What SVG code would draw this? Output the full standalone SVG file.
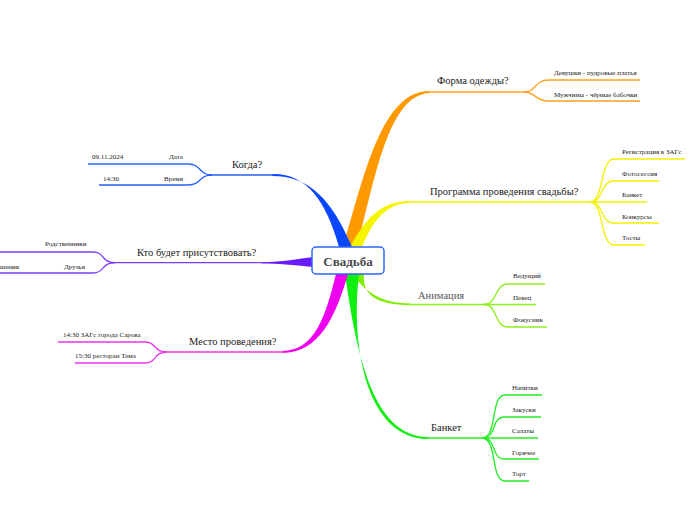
<svg xmlns="http://www.w3.org/2000/svg" width="696" height="520" viewBox="0 0 696 520">
<style>
text{font-family:"Liberation Serif","Times New Roman",serif;fill:#222}
.t{font-size:10.5px}
.s{font-size:7px}
.ln{fill:none;stroke-width:1.3}
.or{stroke:#ffa31a}.orf{fill:#ff9900}
.ye{stroke:#f2f200}.yef{fill:#f5f500}
.li{stroke:#8ef01e}.lif{fill:#80ee00}
.gr{stroke:#22ee22}.grf{fill:#11ee11}
.bl{stroke:#2a62ff}.blf{fill:#0a46ff}
.pu{stroke:#7a3cff}.puf{fill:#6a1aff}
.ma{stroke:#ee33ee}.maf{fill:#ee00ee}
</style>
<rect width="696" height="520" fill="#fff"/>
<g id="connectors">
<path class="orf" d="M343,247 C364,176 382,90 430,91 L430,93 C388,94 375,180 357,247 Z"/>
<path class="ln or" d="M428,92 H528" stroke-width="1.8"/>
<path class="ln or" d="M524,92 C536,92 535,80 548,80 H640"/>
<path class="ln or" d="M524,92 C536,92 535,101 548,101 H640"/>
<path class="yef" d="M350,247 C364,222 378,201 410,201 L410,203 C382,203 370,228 362,247 Z"/>
<path class="ln ye" d="M408,202 H594" stroke-width="1.8"/>
<path class="ln ye" d="M590,202 C604,202 600,159 614,159 H685"/>
<path class="ln ye" d="M590,202 C604,202 600,181 614,181 H659"/>
<path class="ln ye" d="M590,202 H647"/>
<path class="ln ye" d="M590,202 C604,202 600,223 614,223 H659"/>
<path class="ln ye" d="M590,202 C604,202 600,245 614,245 H645"/>
<path class="lif" d="M352,274 C366,292 380,303 410,303.5 L410,305 C378,305 362,296 364,274 Z"/>
<path class="ln li" d="M408,304.5 H488" stroke-width="1.6"/>
<path class="ln li" d="M484,304.5 C498,304.5 494,284 508,284 H545"/>
<path class="ln li" d="M484,304.5 H536"/>
<path class="ln li" d="M484,304.5 C498,304.5 494,327 508,327 H547"/>
<path class="grf" d="M345,274 C356,350 372,437 428,437 L428,439 C368,439 350,350 359,274 Z"/>
<path class="ln gr" d="M426,438 H487" stroke-width="1.8"/>
<path class="ln gr" d="M482,438 C498,438 490,395 505,395 H542"/>
<path class="ln gr" d="M482,438 C498,438 490,417 505,417 H541"/>
<path class="ln gr" d="M482,438 H538"/>
<path class="ln gr" d="M482,438 C498,438 490,459 505,459 H539"/>
<path class="ln gr" d="M482,438 C498,438 490,481 505,481 H529"/>
<path class="blf" d="M272,174 C306,173 326,200 339,247 L352,247 C332,200 310,176 272,176 Z"/>
<path class="ln bl" d="M274,175 H208" stroke-width="1.8"/>
<path class="ln bl" d="M212,175 C198,175 202,164 188,164 H88"/>
<path class="ln bl" d="M212,175 C198,175 202,185 188,185 H99"/>
<path class="puf" d="M313,257 C292,260 278,262 262,262 L262,263.5 C278,263.5 292,265 313,267 Z"/>
<path class="ln pu" d="M265,262.7 H111" stroke-width="1.8"/>
<path class="ln pu" d="M115,262.7 C101,262.7 105,252 93,252 H0"/>
<path class="ln pu" d="M115,262.7 C101,262.7 105,273 93,273 H0"/>
<path class="maf" d="M336,274 C326,315 315,351 282,351 L282,353 C320,353 336,315 348,274 Z"/>
<path class="ln ma" d="M284,352 H163" stroke-width="1.8"/>
<path class="ln ma" d="M167,352 C153,352 157,342 145,342 H58"/>
<path class="ln ma" d="M167,352 C153,352 157,363 145,363 H75"/>
</g>
<g id="center">
<rect x="312" y="247" width="72" height="27" rx="4" fill="#fff" stroke="#2f66ff" stroke-width="1.5"/>
<text x="348" y="265.5" text-anchor="middle" style="font-size:13px;font-weight:bold;fill:#4a4a4a">Свадьба</text>
</g>
<g id="forma">
<text class="t" x="437" y="84">Форма одежды?</text>
<text class="s" x="554" y="75">Девушки - пудровые платья</text>
<text class="s" x="554" y="97">Мужчины - чёрные бабочки</text>
</g>
<g id="programma">
<text class="t" x="430" y="195">Программа проведения свадьбы?</text>
<text class="s" x="622" y="154">Регистрация в ЗАГс</text>
<text class="s" x="622" y="176">Фотосессия</text>
<text class="s" x="622" y="197">Банкет</text>
<text class="s" x="622" y="219">Конкурсы</text>
<text class="s" x="622" y="240">Тосты</text>
</g>
<g id="animacia">
<text class="t" x="418" y="299" style="fill:#555">Анимация</text>
<text class="s" x="513" y="278">Ведущий</text>
<text class="s" x="513" y="300">Певец</text>
<text class="s" x="513" y="322">Фокусник</text>
</g>
<g id="banket">
<text class="t" x="431" y="431">Банкет</text>
<text class="s" x="512" y="390">Напитки</text>
<text class="s" x="512" y="412">Закуски</text>
<text class="s" x="512" y="433">Салаты</text>
<text class="s" x="512" y="455">Горячее</text>
<text class="s" x="512" y="476">Торт</text>
</g>
<g id="kogda">
<text class="t" x="232" y="168">Когда?</text>
<text class="s" x="92" y="159">09.11.2024</text>
<text class="s" x="169" y="159">Дата</text>
<text class="s" x="103" y="181">14:30</text>
<text class="s" x="164" y="181">Время</text>
</g>
<g id="kto">
<text class="t" x="137" y="256">Кто будет присутствовать?</text>
<text class="s" x="45" y="246">Родственники</text>
<text class="s" x="64" y="269">Друзья</text>
<text class="s" x="19" y="269" text-anchor="end">Приглашения</text>
</g>
<g id="mesto">
<text class="t" x="189" y="345">Место проведения?</text>
<text class="s" x="63" y="337">14:30 ЗАГс города Сарова</text>
<text class="s" x="75" y="358">15:30 ресторан Тема</text>
</g>
</svg>
